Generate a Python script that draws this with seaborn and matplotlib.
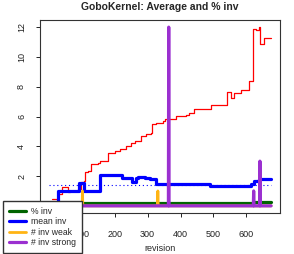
import numpy as np
import pandas as pd
import matplotlib
matplotlib.use("Agg")
import matplotlib.pyplot as plt
import seaborn as sns

# average invariants per revision (red step line)
avg_rev = [8, 28, 41, 58, 64, 89, 99, 107, 109, 119, 129, 149, 155, 180, 200, 215,
           235, 250, 261, 281, 296, 311, 314, 326, 346, 352, 387, 417, 427, 442,
           493, 540, 553, 563, 584, 609, 619, 621, 629, 639, 641, 654, 675]
avg_val = [0.45, 0.8, 1.25, 0.9, 1.0, 1.13, 1.58, 1.7, 2.25, 2.36, 2.8, 2.9, 3.0, 3.58,
           3.69, 3.8, 4.0, 4.2, 4.36, 4.69, 4.84, 4.91, 5.47, 5.58, 5.69, 5.8, 6.02,
           6.13, 6.24, 6.5, 6.8, 7.62, 7.24, 7.58, 7.8, 8.36, 8.69, 11.9, 11.8, 12.0,
           10.9, 11.3, 11.3]

# mean inv (blue)
mean_rev = [8, 27, 92, 106, 155, 223, 252, 265, 272, 292, 306, 326, 488, 614, 622, 638, 675]
mean_val = [0.1, 1.03, 1.55, 1.03, 2.07, 1.84, 1.62, 1.84, 1.96, 1.89, 1.78, 1.47,
            1.36, 1.5, 1.69, 1.8, 1.8]
mean_of_mean = 1.43

# % inv (green)
pct_rev = [0, 100, 200, 320, 450, 620, 675]
pct_val = [0.15, 0.17, 0.18, 0.2, 0.22, 0.26, 0.26]

# spikes: # inv weak / # inv strong
weak_at = [102, 331]
weak_n = [1, 1]
strong_at = [364, 622, 641]
strong_n = [12, 1, 3]
last_rev = 675

revs = np.arange(0, last_rev + 1)
weak = np.zeros(len(revs))
weak[weak_at] = weak_n
strong = np.zeros(len(revs))
strong[strong_at] = strong_n

sns.set_style("ticks")
plt.rcParams["font.family"] = ["Liberation Sans", "DejaVu Sans"]

fig = plt.figure(figsize=(2.94, 2.54), dpi=100)
ax = fig.add_axes([40 / 294, 1 - 213 / 254, 240 / 294, 193 / 254])

sns.lineplot(x=avg_rev, y=avg_val, ax=ax, color="#FF0000", lw=0.9,
             drawstyle="steps-post", estimator=None)
sns.lineplot(x=pct_rev, y=pct_val, ax=ax, color="#006400", lw=2.3,
             drawstyle="steps-post", estimator=None, label="% inv")
sns.lineplot(x=mean_rev, y=mean_val, ax=ax, color="#0000FF", lw=2.3,
             drawstyle="steps-post", estimator=None, label="mean inv")
ax.hlines(mean_of_mean, 0, last_rev, colors="#0000FF", linestyles=(0, (1, 2.5)), lw=0.8)
sns.lineplot(x=revs, y=weak, ax=ax, color="#FFB414", lw=2.0,
             estimator=None, label="# inv weak", solid_capstyle="round")
sns.lineplot(x=revs, y=strong, ax=ax, color="#9B30D0", lw=2.3,
             estimator=None, label="# inv strong", solid_capstyle="round")

ax.set_xlim(-27, 702)
ax.set_ylim(-0.48, 12.48)
ax.set_xticks([0, 100, 200, 300, 400, 500, 600])
ax.set_yticks([0, 2, 4, 6, 8, 10, 12])
for s in ax.spines.values():
    s.set_visible(True)
    s.set_color("#333333")
    s.set_linewidth(0.8)
ax.tick_params(labelsize=6.5, length=3, width=0.7, colors="#222222")
ax.tick_params(axis="x", pad=9)
ax.tick_params(axis="y", pad=7)
plt.setp(ax.get_yticklabels(), rotation=90, va="center")
ax.set_xlabel("revision", fontsize=6.5, labelpad=4)
ax.set_ylabel("")
ax.set_title("GoboKernel: Average and % inv", fontsize=7.5, fontweight="bold", pad=7)

handles, labels = ax.get_legend_handles_labels()
if ax.get_legend() is not None:
    ax.get_legend().remove()
fig.legend(handles, labels, loc="upper left", bbox_to_anchor=(3 / 294, 1 - 201 / 254),
           bbox_transform=fig.transFigure, frameon=True, fancybox=False,
           edgecolor="#333333", framealpha=1, fontsize=6.2, handlelength=2.0,
           handletextpad=0.6, labelspacing=0.16, borderpad=0.7, borderaxespad=0)

fig.savefig("out.png", dpi=100)
